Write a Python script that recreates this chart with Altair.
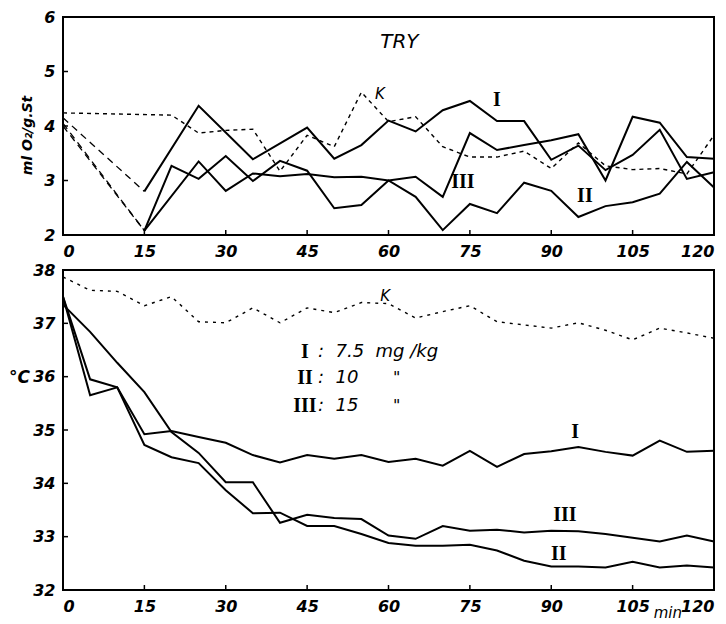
import altair as alt
import pandas as pd

# ---------------- top panel: O2 consumption (ml O2 / g.St) ----------------
top_I_t = [0, 15, 25, 35, 45, 50, 55, 60, 65, 70, 75, 80, 85, 90, 95, 100, 105, 110, 115, 120]
top_I_v = [4.15, 2.8, 4.37, 3.39, 3.97, 3.4, 3.65, 4.1, 3.9, 4.29, 4.46, 4.09, 4.09, 3.38, 3.64, 3.19, 3.47, 3.93, 3.03, 3.15]
top_II_t = [0, 15, 20, 25, 30, 35, 40, 45, 50, 55, 60, 65, 70, 75, 80, 85, 90, 95, 100, 105, 110, 115, 120]
top_II_v = [4.05, 2.08, 3.27, 3.03, 3.45, 2.99, 3.36, 3.18, 2.49, 2.55, 3.0, 2.7, 2.09, 2.57, 2.4, 2.96, 2.81, 2.33, 2.53, 2.6, 2.76, 3.34, 2.87]
top_III_t = [0, 15, 25, 30, 35, 40, 45, 50, 55, 60, 65, 70, 75, 80, 85, 90, 95, 100, 105, 110, 115, 120]
top_III_v = [4.0, 2.08, 3.35, 2.81, 3.13, 3.08, 3.12, 3.06, 3.07, 3.0, 3.07, 2.7, 3.87, 3.56, 3.65, 3.74, 3.85, 3.0, 4.17, 4.06, 3.43, 3.4]
top_K_t = [0, 10, 20, 25, 30, 35, 40, 45, 50, 55, 60, 65, 70, 75, 80, 85, 90, 95, 100, 105, 110, 115, 120]
top_K_v = [4.24, 4.22, 4.2, 3.87, 3.92, 3.94, 3.17, 3.83, 3.62, 4.62, 4.08, 4.17, 3.62, 3.43, 3.43, 3.54, 3.22, 3.69, 3.27, 3.2, 3.22, 3.12, 3.83]

# ---------------- bottom panel: body temperature (°C) ----------------
bot_t = [0, 5, 10, 15, 20, 25, 30, 35, 40, 45, 50, 55, 60, 65, 70, 75, 80, 85, 90, 95, 100, 105, 110, 115, 120]
bot_I = [37.5, 35.95, 35.8, 34.92, 34.98, 34.87, 34.76, 34.53, 34.39, 34.53, 34.46, 34.53, 34.4, 34.46, 34.33, 34.61,
         34.31, 34.55, 34.6, 34.68, 34.59, 34.52, 34.8, 34.59, 34.61]
bot_II = [37.5, 35.65, 35.8, 34.72, 34.49, 34.38, 33.87, 33.44, 33.45, 33.2, 33.2, 33.05, 32.88, 32.83, 32.83, 32.85,
          32.74, 32.55, 32.44, 32.44, 32.42, 32.53, 32.42, 32.46, 32.42]
bot_III = [37.35, 36.84, 36.26, 35.71, 34.96, 34.57, 34.02, 34.02, 33.26, 33.41, 33.35, 33.33, 33.02, 32.96, 33.2, 33.11,
           33.13, 33.08, 33.11, 33.1, 33.05, 32.98, 32.91, 33.02, 32.91]
bot_K = [37.87, 37.62, 37.6, 37.33, 37.5, 37.03, 37.01, 37.29, 37.01, 37.29, 37.2, 37.39, 37.37, 37.1, 37.22, 37.33,
         37.03, 36.97, 36.91, 37.01, 36.87, 36.69, 36.91, 36.82, 36.72]

x_ticks = [0, 15, 30, 45, 60, 75, 90, 105, 120]
inner_x_ticks = [15, 30, 45, 60, 75, 90, 105]
top_y_ticks = [2, 3, 4, 5, 6]
bot_y_ticks = [32, 33, 34, 35, 36, 37, 38]

NB = "\u00a0"
# annotations (text, x in min, y in data units)
top_roman = [("I", 80, 4.48), ("III", 73.7, 2.97), ("II", 96.2, 2.72)]
top_words = [("TRY", 62, 5.54, 20), ("K", 58.4, 4.58, 15)]
bot_roman = [("I", 94.4, 34.96), ("III", 92.5, 33.4), ("II", 91.4, 32.68),
             ("I", 44.6, 36.46), ("II", 44.6, 35.97), ("III", 44.6, 35.45)]
bot_words = [("K", 59.4, 37.52, 15),
             (":" + NB + NB + "7.5" + NB + NB + "mg" + NB + "/kg", 47.0, 36.46, 18),
             (":" + NB + NB + "10", 47.0, 35.97, 18),
             (":" + NB + NB + "15", 47.0, 35.45, 18),
             ('"', 61.5, 35.97, 16), ('"', 61.5, 35.45, 16),
             ("min", 111.5, 31.56, 15)]

W, H_TOP, H_BOT = 651, 218, 320
FONT = "DejaVu Sans"


def long(series):
    rows = []
    for name, ts, vs in series:
        for t, v in zip(ts, vs):
            rows.append({"s": name, "t": t, "v": v})
    return pd.DataFrame(rows)


def panel(solid, dashed, k, y_dom, y_ticks, height, y_axis, k_dash, roman, words):
    xs = alt.Scale(domain=[0, 120], nice=False, zero=False)
    ys = alt.Scale(domain=y_dom, nice=False, zero=False)
    x_axis = alt.Axis(values=x_ticks, title=None, labelFlush=True)
    X = alt.X("t:Q", scale=xs, axis=x_axis)
    Y = alt.Y("v:Q", scale=ys, axis=y_axis)

    layers = []
    layers.append(alt.Chart(long(solid)).mark_line(color="black", strokeWidth=2).encode(
        x=X, y=Y, detail="s:N", order="t:Q"))
    if dashed:
        layers.append(alt.Chart(long(dashed)).mark_line(color="black", strokeWidth=1.3, strokeDash=[7, 5]).encode(
            x=X, y=Y, detail="s:N", order="t:Q"))
    layers.append(alt.Chart(long(k)).mark_line(color="black", strokeWidth=1.4, strokeDash=k_dash).encode(
        x=X, y=Y, order="t:Q"))
    # inward tick marks
    layers.append(alt.Chart(pd.DataFrame({"t": inner_x_ticks})).mark_rule(color="black", strokeWidth=1.5).encode(
        x=X, y=alt.value(height), y2=alt.value(height - 5)))
    layers.append(alt.Chart(pd.DataFrame({"v": y_ticks[1:-1]})).mark_rule(color="black", strokeWidth=1.5).encode(
        y=Y, x=alt.value(0), x2=alt.value(5)))
    rdf = pd.DataFrame(roman, columns=["txt", "t", "v"])
    layers.append(alt.Chart(rdf).mark_text(font="Liberation Serif", fontWeight="bold", fontSize=20,
                                           color="black").encode(x=X, y=Y, text="txt:N"))
    for txt, t, v, size in words:
        align = "left" if txt.startswith(":") else "center"
        layers.append(alt.Chart(pd.DataFrame({"txt": [txt], "t": [t], "v": [v]})).mark_text(
            font=FONT, fontStyle="italic", fontSize=size, color="black", align=align).encode(
            x=X, y=Y, text="txt:N"))
    return alt.layer(*layers).properties(width=W, height=height)


top_y_axis = alt.Axis(values=top_y_ticks, title="ml O₂/g.St", titleAngle=270, titleX=-36, titleY=118,
                      titleAlign="center", titleBaseline="middle", titleFontSize=14)
bot_y_axis = alt.Axis(values=bot_y_ticks, title="°C", titleAngle=0, titleX=-44, titleY=107,
                      titleAlign="center", titleBaseline="middle", titleFontSize=17)

top = panel(
    solid=[("I", top_I_t[1:], top_I_v[1:]), ("II", top_II_t[1:], top_II_v[1:]), ("III", top_III_t[1:], top_III_v[1:])],
    dashed=[("I", top_I_t[:2], top_I_v[:2]), ("II", top_II_t[:2], top_II_v[:2]), ("III", top_III_t[:2], top_III_v[:2])],
    k=[("K", top_K_t, top_K_v)],
    y_dom=[2, 6], y_ticks=top_y_ticks, height=H_TOP, y_axis=top_y_axis,
    k_dash=[4, 4], roman=top_roman, words=top_words)

bot = panel(
    solid=[("I", bot_t, bot_I), ("II", bot_t, bot_II), ("III", bot_t, bot_III)],
    dashed=None,
    k=[("K", bot_t, bot_K)],
    y_dom=[32, 38], y_ticks=bot_y_ticks, height=H_BOT, y_axis=bot_y_axis,
    k_dash=[3, 5], roman=bot_roman, words=bot_words)

chart = alt.vconcat(top, bot, spacing=35, bounds="flush").properties(
    padding={"left": 7, "top": 8, "right": 5, "bottom": 5},
    background="white",
).configure_view(stroke="black", strokeWidth=2).configure_axis(
    domain=False, ticks=False, grid=False, labelFont=FONT, labelFontSize=16, labelFontStyle="italic",
    labelFontWeight="bold", labelColor="black", labelPadding=8, labelOverlap=False,
    titleFont=FONT, titleFontStyle="italic", titleFontWeight="bold", titleColor="black",
)

chart.save("out.html", embed_options={"renderer": "svg", "actions": False})
